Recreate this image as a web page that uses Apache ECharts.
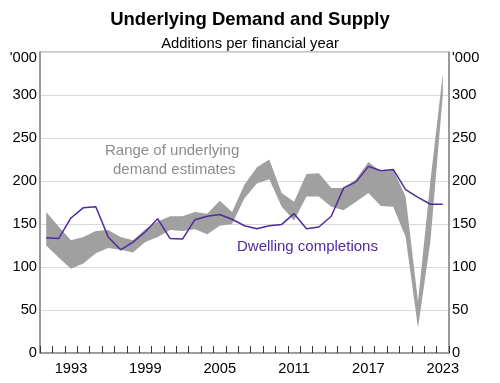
<!DOCTYPE html>
<html>
<head>
<meta charset="utf-8">
<script src="https://cdn.jsdelivr.net/npm/echarts@6/dist/echarts.min.js"></script>
<style>html,body{margin:0;padding:0;background:#fff}#c{width:500px;height:383px}</style>
</head>
<body>
<div id="c"></div>
<script>
var years = [1991,1992,1993,1994,1995,1996,1997,1998,1999,2000,2001,2002,2003,2004,2005,2006,2007,2008,2009,2010,2011,2012,2013,2014,2015,2016,2017,2018,2019,2020,2021,2022,2023];
var completions = [134,133,157,169,170,135,120,129,141,156,133,132.5,155,159,161,155.5,148,144.5,148,149.5,162,144.5,146.5,159,192,199,217,212,213.5,190,181,173,173];
var demandLow = [125,111,98,104,116,122,120,117,129,135,143,142,144,138,148,150,180,197,202,170,154,182,182,170,166,176,186,171,170,135,29,130,300];
var demandHigh = [164,147,131,135,142,143,135,131,144,153,159,159,164,162,177,164,196,216,225,186,176,208,209,192,192,202,222,211,213,182,60,200,325];
var yTicks = [0,50,100,150,200,250,300,350];
var xLabelYears = [1993,1999,2005,2011,2017,2023];

var bandDiff = demandHigh.map(function(h,i){return h - demandLow[i];});
var FONT = '"Liberation Sans", Arial, sans-serif';

function yFmt(v){ return v === 350 ? "{u|'000}" : String(v); }
var yLabel = {
  fontFamily: FONT, fontSize: 14.7, color: '#000', formatter: yFmt,
  rich: { u: { fontFamily: FONT, fontSize: 14.7, color: '#000', padding: [12,0,0,0] } }
};

var chart = echarts.init(document.getElementById('c'), null, {renderer: 'canvas'});
chart.setOption({
  animation: false,
  title: [
    { text: 'Underlying Demand and Supply', left: 'center', top: 5,
      textStyle: { fontFamily: FONT, fontSize: 18.5, fontWeight: 'bold', color: '#000' } },
    { text: 'Additions per financial year', left: 'center', top: 31,
      textStyle: { fontFamily: FONT, fontSize: 14.8, fontWeight: 'normal', color: '#000' } }
  ],
  grid: { left: 40, right: 51, top: 52, bottom: 30, show: true, borderColor: '#8c8c8c', borderWidth: 1, containLabel: false },
  xAxis: {
    type: 'category', data: years, boundaryGap: true,
    axisLine: { show: true, lineStyle: { color: '#8c8c8c', width: 1.5 } },
    axisTick: { show: true, inside: true, length: 7, interval: 0, lineStyle: { color: '#333', width: 1 } },
    axisLabel: { fontFamily: FONT, fontSize: 14.7, color: '#000', margin: 8,
      interval: function(i, v){ return xLabelYears.indexOf(Number(v)) >= 0; } },
    splitLine: { show: false }
  },
  yAxis: [
    { type: 'value', min: 0, max: 350, interval: 50, position: 'left',
      axisLine: { show: true, lineStyle: { color: '#8c8c8c', width: 1.5 } },
      axisTick: { show: false },
      axisLabel: Object.assign({ margin: 3 }, yLabel),
      splitLine: { show: true, lineStyle: { color: '#d9d9d9', width: 1 } } },
    { type: 'value', min: 0, max: 350, interval: 50, position: 'right',
      axisLine: { show: true, lineStyle: { color: '#8c8c8c', width: 1.5 } },
      axisTick: { show: false },
      axisLabel: Object.assign({ margin: 3 }, yLabel),
      splitLine: { show: false } }
  ],
  series: [
    { name: 'low', type: 'line', stack: 'band', data: demandLow, symbol: 'none',
      lineStyle: { opacity: 0 }, areaStyle: { opacity: 0 }, silent: true, z: 2 },
    { name: 'range', type: 'line', stack: 'band', data: bandDiff, symbol: 'none',
      lineStyle: { opacity: 0 }, areaStyle: { color: '#a0a0a0', opacity: 1 }, silent: true, z: 2 },
    { name: 'Dwelling completions', type: 'line', data: completions, symbol: 'none',
      lineStyle: { color: '#4f2a9c', width: 1.5 }, z: 3 }
  ],
  graphic: [
    { type: 'text', left: 105, top: 143, style: { text: 'Range of underlying', fontFamily: FONT, fontSize: 15, fill: '#8c8c8c' } },
    { type: 'text', left: 113, top: 162, style: { text: 'demand estimates', fontFamily: FONT, fontSize: 15, fill: '#8c8c8c' } },
    { type: 'text', left: 237, top: 239, style: { text: 'Dwelling completions', fontFamily: FONT, fontSize: 15, fill: '#4f2a9c' } }
  ]
});
</script>
</body>
</html>
